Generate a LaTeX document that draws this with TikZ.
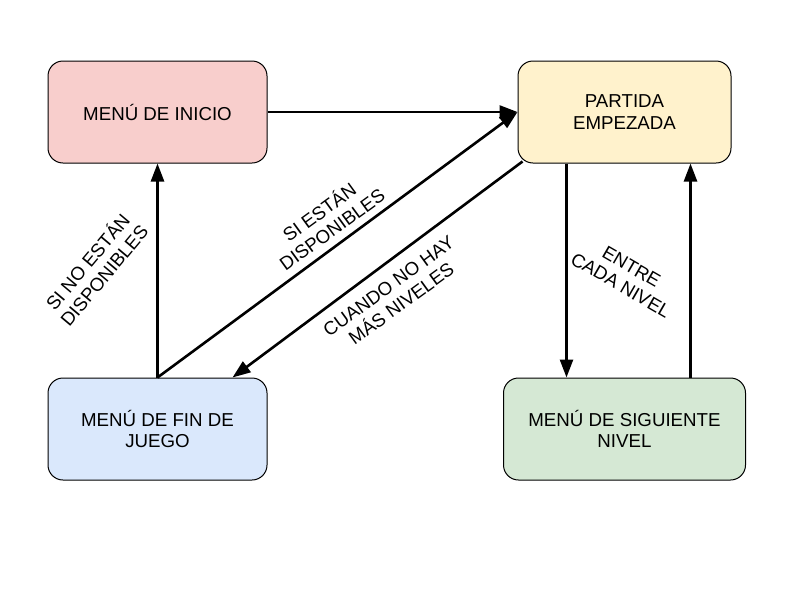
\documentclass[tikz,border=0pt]{standalone}
\usepackage{fontspec}
\setmainfont{Liberation Sans}
\usetikzlibrary{positioning,arrows.meta}
\definecolor{rosa}{HTML}{F8CECC}
\definecolor{amarillo}{HTML}{FFF2CC}
\definecolor{azul}{HTML}{DAE8FC}
\definecolor{verde}{HTML}{D5E8D4}
\begin{document}
\begin{tikzpicture}[x=1pt, y=-1pt, font=\fontsize{18.7}{21.5}\selectfont,
    main/.style = {draw, line width=1pt, rounded corners=15pt, minimum height=102pt, align=center, inner sep=0pt},
    flecha/.style = {line width=2.6pt, -{Triangle[length=18pt,width=13pt]}},
    etiq/.style = {align=center, inner sep=0pt}]
        \useasboundingbox (0,0) rectangle (800,600);
        \node[main, fill=rosa, minimum width=219pt] (inicio) at (157.5,112) {MENÚ DE INICIO};
        \node[main, fill=amarillo, minimum width=213pt] (partida) [right=250pt of inicio] {PARTIDA\\EMPEZADA};
        \node[main, fill=azul, minimum width=219pt] (fin) [below=214pt of inicio] {MENÚ DE FIN DE\\JUEGO};
        \node[main, fill=verde, minimum width=242pt] (sig) [below=214pt of partida] {MENÚ DE SIGUIENTE\\NIVEL};
        \node[etiq, rotate=50] (nodisp) at (95,268) {SI NO ESTÁN\\DISPONIBLES};
        \node[etiq, rotate=36] (disp) at (325,220) {SI ESTÁN\\DISPONIBLES};
        \node[etiq, rotate=36] (niveles) at (395,295) {CUANDO NO HAY\\MÁS NIVELES};
        \node[etiq, rotate=-30] (entre) at (626,276) {ENTRE\\CADA NIVEL};
        \draw[flecha] (inicio) -- (partida);
        \draw[flecha] (fin) -- (inicio);
        \draw[flecha] (fin.north) -- (partida.west);
        \draw[flecha] ([shift={(5,-2)}]partida.south west) -- ([xshift=75pt]fin.north);
        \draw[flecha] ([xshift=-58pt]partida.south) -- ([xshift=-58pt]sig.north);
        \draw[flecha] ([xshift=66pt]sig.north) -- ([xshift=66pt]partida.south);
    \end{tikzpicture}
\end{document}
